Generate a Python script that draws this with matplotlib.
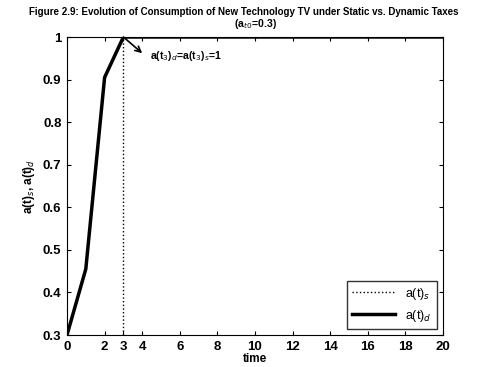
import matplotlib
matplotlib.use('Agg')
import matplotlib.pyplot as plt

plt.rcParams['font.family'] = ['Liberation Sans', 'DejaVu Sans']

tempo = [0, 1, 2, 3, 4, 5, 6, 7, 8, 9, 10, 11, 12, 13, 14, 15, 16, 17, 18, 19, 20]
a_s = [0.3, 0.455, 0.905, 1, 1, 1, 1, 1, 1, 1, 1, 1, 1, 1, 1, 1, 1, 1, 1, 1, 1]
a_d = [0.3, 0.455, 0.905, 1, 1, 1, 1, 1, 1, 1, 1, 1, 1, 1, 1, 1, 1, 1, 1, 1, 1]
xticks = [0, 2, 3, 4, 6, 8, 10, 12, 14, 16, 18, 20]
yticks = [0.3, 0.4, 0.5, 0.6, 0.7, 0.8, 0.9, 1]
t3 = 3

fig = plt.figure(figsize=(4.87, 3.67), dpi=100)
ax = fig.add_axes([67/487, 1 - 335/367, (443-67)/487, (335-37)/367])

ax.plot(tempo, a_s, color='black', linestyle=':', lw=1, label='a(t)$_s$')
ax.plot(tempo, a_d, color='black', linestyle='-', lw=2.5, label='a(t)$_d$')
ax.axvline(t3, color='black', linestyle=':', lw=1)

ax.annotate('', xy=(4.0, 0.962), xytext=(t3, 1),
            arrowprops=dict(arrowstyle='->', color='black', lw=1.2, shrinkA=0, shrinkB=0))
ax.text(4.4, 0.955, 'a(t$_3$)$_d$=a(t$_3$)$_s$=1', fontsize=7.6, fontweight='bold', va='center')

ax.set_xlim(0, 20)
ax.set_ylim(0.3, 1)
ax.set_xticks(xticks)
ax.set_yticks(yticks)
ax.set_yticklabels(['0.3', '0.4', '0.5', '0.6', '0.7', '0.8', '0.9', '1'])
ax.tick_params(direction='in', labelsize=9.5, length=3, pad=4, top=True, right=True)
for lab in ax.get_xticklabels() + ax.get_yticklabels():
    lab.set_fontweight('bold')

ax.set_xlabel('time', fontsize=8.5, fontweight='bold', labelpad=0)
ax.set_ylabel('a(t)$_s$, a(t)$_d$', fontsize=8.5, fontweight='bold', labelpad=4)
fig.text(0.5, 1 - 12/367, 'Figure 2.9: Evolution of Consumption of New Technology TV under Static vs. Dynamic Taxes',
         ha='center', va='center', fontsize=7.0, fontweight='bold')
fig.text(255/487, 1 - 24/367, '(a$_{t0}$=0.3)', ha='center', va='center', fontsize=7.6, fontweight='bold')

ax.legend(loc='lower right', fontsize=9, frameon=True, fancybox=False,
          edgecolor='black', handlelength=3.5, borderaxespad=0.5)

fig.savefig('out.png', dpi=100)
